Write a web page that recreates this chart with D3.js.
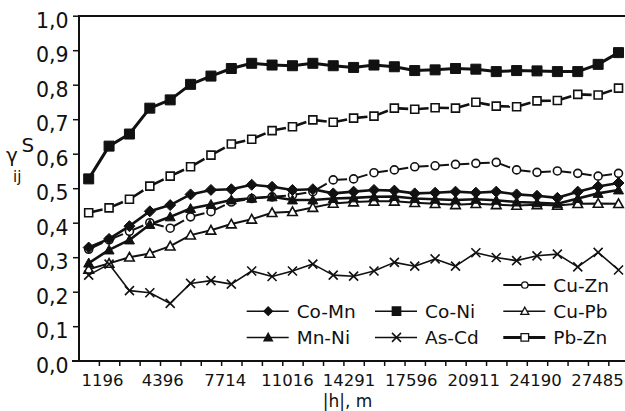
<!DOCTYPE html>
<html lang="en">
<head>
<meta charset="UTF-8">
<title>gamma ij</title>
<script src="https://d3js.org/d3.v7.min.js"></script>
<style>
  body { margin: 0; background: #fff; }
  text { font-family: "DejaVu Sans", sans-serif; fill: #111; }
</style>
</head>
<body>
<div id="chart"></div>
<script>
// x tick labels (lag distance |h|, m), one every third category
const tickLabels = [1196, 4396, 7714, 11016, 14291, 17596, 20911, 24190, 27485];
const yTicks = [0, 0.1, 0.2, 0.3, 0.4, 0.5, 0.6, 0.7, 0.8, 0.9, 1.0];

// series values, 27 lags each
const coMn = [0.328, 0.353, 0.390, 0.433, 0.451, 0.482, 0.495, 0.497, 0.510, 0.504, 0.495, 0.497, 0.485, 0.490,
  0.495, 0.493, 0.485, 0.487, 0.490, 0.487, 0.490, 0.482, 0.478, 0.472, 0.490, 0.505, 0.515];
const coNi = [0.527, 0.622, 0.657, 0.732, 0.756, 0.801, 0.825, 0.847, 0.862, 0.857, 0.855, 0.862, 0.855, 0.850,
  0.857, 0.852, 0.841, 0.843, 0.847, 0.845, 0.838, 0.841, 0.840, 0.838, 0.838, 0.859, 0.893];
const cuPb = [0.265, 0.282, 0.300, 0.311, 0.332, 0.364, 0.378, 0.396, 0.410, 0.429, 0.432, 0.444, 0.456, 0.460,
  0.462, 0.462, 0.458, 0.455, 0.452, 0.455, 0.452, 0.450, 0.452, 0.450, 0.455, 0.456, 0.455];
const mnNi = [0.283, 0.321, 0.350, 0.395, 0.417, 0.441, 0.453, 0.466, 0.471, 0.475, 0.466, 0.466, 0.470, 0.472,
  0.475, 0.476, 0.470, 0.468, 0.466, 0.468, 0.465, 0.460, 0.458, 0.455, 0.470, 0.485, 0.495];
const asCd = [0.248, 0.280, 0.203, 0.197, 0.166, 0.224, 0.232, 0.222, 0.260, 0.244, 0.260, 0.280, 0.248, 0.245,
  0.260, 0.285, 0.274, 0.295, 0.274, 0.313, 0.299, 0.290, 0.304, 0.309, 0.272, 0.314, 0.263];
const pbZn = [0.429, 0.443, 0.468, 0.506, 0.535, 0.562, 0.596, 0.628, 0.642, 0.667, 0.678, 0.698, 0.691, 0.703,
  0.709, 0.732, 0.729, 0.733, 0.732, 0.749, 0.738, 0.736, 0.753, 0.754, 0.772, 0.770, 0.790];
const cuZn = [0.323, 0.350, 0.375, 0.400, 0.384, 0.417, 0.432, 0.460, 0.470, 0.475, 0.480, 0.490, 0.524, 0.527,
  0.545, 0.553, 0.562, 0.565, 0.569, 0.572, 0.575, 0.553, 0.546, 0.550, 0.543, 0.535, 0.543];

const W = 625, H = 411;
const svg = d3.select("#chart").append("svg")
  .attr("width", W)
  .attr("height", H);

const nCat = coNi.length;
const xi = d3.scaleLinear().domain([0, nCat]).range([78.5, 628.7]);
const y = d3.scaleLinear().domain([0, 1]).range([360.7, 15.7]);
const xLab = d3.scaleLinear().domain([1196, 27485]).range([102, 597]);

// marker shapes
const shapes = {
  diamond: s => `M0,${-s}L${s},0L0,${s}L${-s},0Z`,
  square: s => `M${-s},${-s}H${s}V${s}H${-s}Z`,
  triangle: s => `M0,${-s}L${s},${s * 0.8}L${-s},${s * 0.8}Z`,
  cross: s => `M${-s},${-s}L${s},${s}M${-s},${s}L${s},${-s}`,
  circle: s => `M${s},0A${s},${s} 0 1,1 ${-s},0A${s},${s} 0 1,1 ${s},0Z`
};

const series = [
  {name: "Cu-Zn", values: cuZn, shape: "circle", size: 4, fill: "#fff", lw: 2, dashed: true, leg: [2, 0], lsize: 3.2, llw: 2},
  {name: "Co-Mn", values: coMn, shape: "diamond", size: 5.5, fill: "#111", lw: 2.6, leg: [0, 1], lsize: 4.2, llw: 1.5},
  {name: "Co-Ni", values: coNi, shape: "square", size: 5, fill: "#111", lw: 3, leg: [1, 1], lsize: 4.2, llw: 1.5},
  {name: "Cu-Pb", values: cuPb, shape: "triangle", size: 4.8, fill: "#fff", lw: 2, leg: [2, 1], lsize: 4, llw: 1.5},
  {name: "Mn-Ni", values: mnNi, shape: "triangle", size: 5, fill: "#111", lw: 2.6, leg: [0, 2], lsize: 4.2, llw: 1.5},
  {name: "As-Cd", values: asCd, shape: "cross", size: 4.5, fill: "none", lw: 1.6, leg: [1, 2], lsize: 4.5, llw: 1.5},
  {name: "Pb-Zn", values: pbZn, shape: "square", size: 4, fill: "#fff", lw: 2.6, dashed: true, leg: [2, 2], lsize: 3.8, llw: 3}
];

// axes frame
svg.append("line").attr("x1", 79).attr("x2", 625).attr("y1", 16).attr("y2", 16)
  .attr("stroke", "#111").attr("stroke-width", 2);
svg.append("line").attr("x1", 79).attr("x2", 79).attr("y1", 15).attr("y2", 361)
  .attr("stroke", "#111").attr("stroke-width", 2);
svg.append("line").attr("x1", 72).attr("x2", 625).attr("y1", 361).attr("y2", 361)
  .attr("stroke", "#111").attr("stroke-width", 2);

// y axis
const yAxis = svg.append("g").attr("transform", "translate(79,0)")
  .call(d3.axisLeft(y).tickValues(yTicks).tickSize(6).tickPadding(4.5)
    .tickFormat(d => d.toFixed(1).replace(".", ",")));
yAxis.select(".domain").remove();
yAxis.selectAll("line").attr("stroke", "#111").attr("stroke-width", 1.5);
yAxis.selectAll("text").attr("font-size", "20.5px").attr("dy", "0.56em")
  .attr("font-family", "DejaVu Sans").attr("fill", "#111");

// x axis ticks between categories
const xAxis = svg.append("g").attr("transform", "translate(0,361)")
  .call(d3.axisBottom(xi).tickValues(d3.range(1, nCat)).tickSize(5).tickFormat(""));
xAxis.select(".domain").remove();
xAxis.selectAll("line").attr("stroke", "#111").attr("stroke-width", 1.5);

// x labels
const xLabels = svg.append("g").attr("transform", "translate(0,361)")
  .call(d3.axisBottom(xLab).tickValues(tickLabels).tickSize(0).tickPadding(13).tickFormat(d => d));
xLabels.select(".domain").remove();
xLabels.selectAll("text").attr("font-size", "16.5px")
  .attr("font-family", "DejaVu Sans").attr("fill", "#111");

// axis titles
svg.append("text").attr("x", 347.5).attr("y", 406.5).attr("text-anchor", "middle")
  .attr("font-size", "17px").text("|h|, m");
const yt = svg.append("g");
yt.append("text").attr("x", 6).attr("y", 162).attr("font-size", "20px").text("γ");
yt.append("text").attr("x", 13).attr("y", 182).attr("font-size", "15px").text("ij");
yt.append("text").attr("x", 21.5).attr("y", 152).attr("font-size", "20px").text("S");

// series lines
const plot = svg.append("g");
series.forEach(s => {
  const pts = s.values.map((v, i) => [xi(i + 0.5), y(v)]);
  if (s.dashed) {
    plot.selectAll(null).data(pts.slice(0, -1)).enter().append("line")
      .attr("x1", (d) => d[0]).attr("y1", d => d[1])
      .attr("x2", (d, i) => d[0] + 0.68 * (pts[i + 1][0] - d[0]))
      .attr("y2", (d, i) => d[1] + 0.68 * (pts[i + 1][1] - d[1]))
      .attr("stroke", "#111").attr("stroke-width", s.lw);
  } else {
    plot.append("path").datum(pts)
      .attr("d", d3.line())
      .attr("fill", "none").attr("stroke", "#111").attr("stroke-width", s.lw)
      .attr("stroke-linejoin", "round");
  }
});
// markers on top
series.forEach(s => {
  plot.selectAll(null).data(s.values).enter().append("path")
    .attr("transform", (d, i) => `translate(${xi(i + 0.5)},${y(d)})`)
    .attr("d", shapes[s.shape](s.size))
    .attr("fill", s.fill).attr("stroke", "#111")
    .attr("stroke-width", s.shape === "cross" ? 1.6 : (s.fill === "#fff" ? 1.6 : 1));
});

// legend
const legend = svg.append("g");
series.forEach(s => {
  const x0 = 246.7 + s.leg[0] * 128.3;
  const y0 = 285 + s.leg[1] * 26.2;
  legend.append("line").attr("x1", x0).attr("x2", x0 + 42).attr("y1", y0).attr("y2", y0)
    .attr("stroke", "#111").attr("stroke-width", s.llw);
  legend.append("path").attr("transform", `translate(${x0 + 21.5},${y0})`)
    .attr("d", shapes[s.shape](s.lsize))
    .attr("fill", s.fill).attr("stroke", "#111")
    .attr("stroke-width", s.shape === "cross" ? 1.5 : 1.3);
  legend.append("text").attr("x", x0 + 50).attr("y", y0 + 6.8)
    .attr("font-size", "18.5px").text(s.name);
});
</script>
</body>
</html>
